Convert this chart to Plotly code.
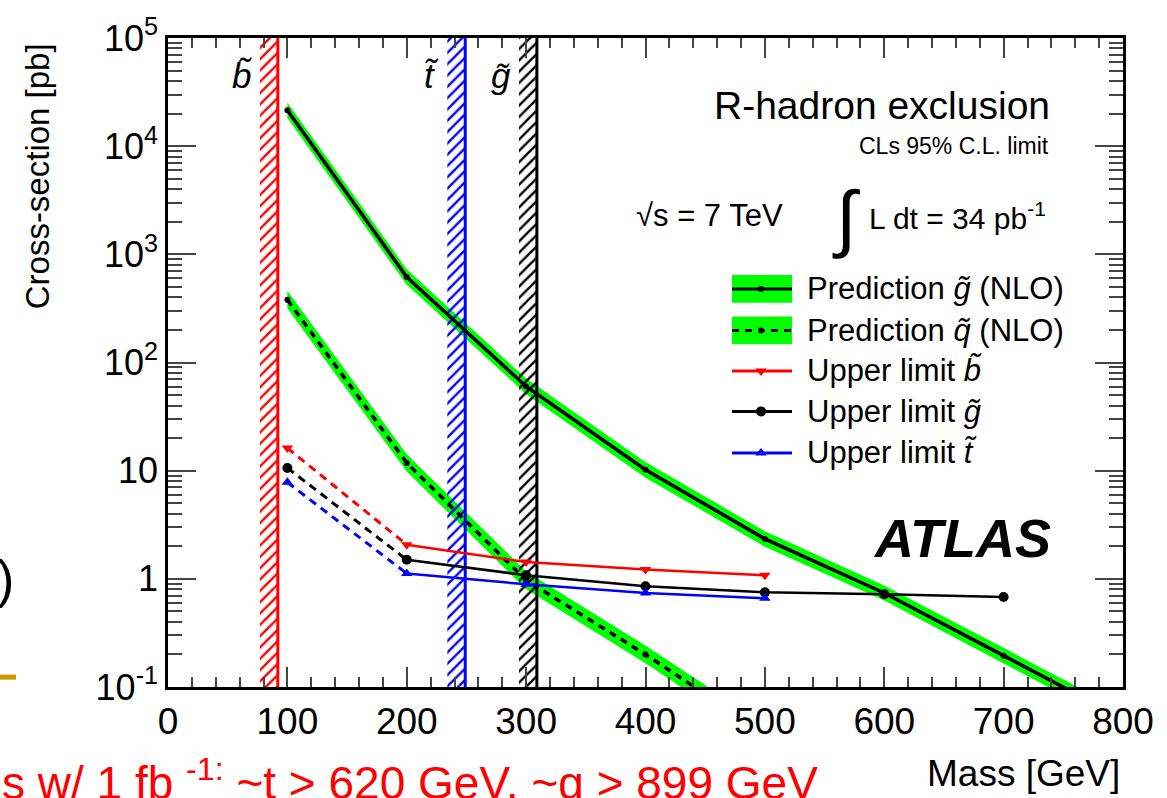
import plotly.graph_objects as go

# ---------------- data ----------------
mass_gl = [100, 200, 300, 400, 500, 600, 700, 800]
gluino_pred = [2.15e4, 617, 60, 10.2, 2.34, 0.74, 0.195, 0.051]
gluino_pred_hi = [2.54e4, 728, 71, 12.0, 2.76, 0.87, 0.230, 0.060]
gluino_pred_lo = [1.82e4, 523, 51, 8.6, 1.98, 0.63, 0.165, 0.043]

mass_sq = [100, 200, 300, 400, 500]
squark_pred = [380, 11.8, 0.97, 0.20, 0.037]
squark_pred_hi = [460, 14.2, 1.17, 0.242, 0.045]
squark_pred_lo = [315, 9.8, 0.80, 0.166, 0.030]

mass_ul = [100, 200, 300, 400, 500]
ul_sbottom = [16.2, 2.07, 1.43, 1.22, 1.08]
ul_stop = [7.8, 1.12, 0.89, 0.74, 0.66]
mass_ul_gl = [100, 200, 300, 400, 500, 600, 700]
ul_gluino = [10.6, 1.5, 1.08, 0.855, 0.75, 0.72, 0.68]

# previous mass limits (hatched bands) [low, high] GeV
prev_sbottom = [77, 92]
prev_stop = [234, 249]
prev_gluino = [294, 309]

YMIN, YMAX = 0.1, 1e5
y_tickvals = [0.1, 1, 10, 100, 1e3, 1e4, 1e5]
y_ticktext = ["10<sup>-1</sup>", "1", "10", "10<sup>2</sup>", "10<sup>3</sup>",
              "10<sup>4</sup>", "10<sup>5</sup>"]
y_minor = [m * 10 ** e for e in range(-1, 5) for m in range(2, 10)]
x_tickvals = [0, 100, 200, 300, 400, 500, 600, 700, 800]

# ---------------- layout geometry ----------------
W, H = 1167, 798
L, R, T, B = 168, 1123, 30, 687


def fx(px):
    return (px - L) / (R - L)


def fy(py):
    return (B - py) / (B - T)


FONT = "Liberation Sans, Arial, Helvetica, sans-serif"
GREEN = "#00FF00"

fig = go.Figure()

# green bands
for lo, hi, xs in [(gluino_pred_lo, gluino_pred_hi, mass_gl),
                   (squark_pred_lo, squark_pred_hi, mass_sq)]:
    fig.add_trace(go.Scatter(x=xs, y=lo, mode="lines", line=dict(width=0, color=GREEN),
                             showlegend=False, hoverinfo="skip"))
    fig.add_trace(go.Scatter(x=xs, y=hi, mode="lines", line=dict(width=0, color=GREEN),
                             fill="tonexty", fillcolor=GREEN, showlegend=False, hoverinfo="skip"))

# hatched previous-limit bands
for (lo, hi), col in [(prev_sbottom, "red"), (prev_stop, "blue"), (prev_gluino, "black")]:
    fig.add_trace(go.Scatter(
        x=[lo, hi, hi, lo, lo], y=[YMIN, YMIN, YMAX, YMAX, YMIN],
        mode="none", fill="toself", fillcolor="rgba(0,0,0,0)",
        fillpattern=dict(shape="/", fgcolor=col, bgcolor="rgba(0,0,0,0)", size=8,
                         solidity=0.3, fgopacity=1),
        showlegend=False, hoverinfo="skip"))
    fig.add_trace(go.Scatter(x=[hi, hi], y=[YMIN, YMAX], mode="lines",
                             line=dict(color=col, width=3), showlegend=False, hoverinfo="skip"))

# predictions
fig.add_trace(go.Scatter(x=mass_gl, y=gluino_pred, mode="lines+markers",
                         line=dict(color="black", width=3.5),
                         marker=dict(color="black", size=6), showlegend=False))
fig.add_trace(go.Scatter(x=mass_sq, y=squark_pred, mode="lines+markers",
                         line=dict(color="black", width=3.5, dash="7px,6px"),
                         marker=dict(color="black", size=6), showlegend=False))

# upper limits: dashed first segment, solid afterwards
for xs, ys, col, sym in [(mass_ul, ul_sbottom, "red", "triangle-down"),
                         (mass_ul_gl, ul_gluino, "black", "circle"),
                         (mass_ul, ul_stop, "blue", "triangle-up")]:
    fig.add_trace(go.Scatter(x=xs[:2], y=ys[:2], mode="lines",
                             line=dict(color=col, width=3, dash="8px,6px"),
                             showlegend=False))
    fig.add_trace(go.Scatter(x=xs[1:], y=ys[1:], mode="lines",
                             line=dict(color=col, width=2.5), showlegend=False))
    fig.add_trace(go.Scatter(x=xs, y=ys, mode="markers",
                             marker=dict(color=col, size=10, symbol=sym), showlegend=False))

# ---------------- hand-made legend (overlay axes 0..1) ----------------
leg_rows = [284, 326, 367, 408, 450]
leg_x0, leg_x1, leg_xc = 732, 792, 761
leg_labels = ["Prediction <i>g̃</i> (NLO)", "Prediction <i>q̃</i> (NLO)",
              "Upper limit <i>b̃</i>", "Upper limit <i>g̃</i>", "Upper limit <i>t̃</i>"]
leg_styles = [("black", "solid", "circle", 6, 3), ("black", "7px,6px", "circle", 6, 3),
              ("red", "solid", "triangle-down", 10, 3), ("black", "solid", "circle", 10, 3),
              ("blue", "solid", "triangle-up", 10, 3)]
shapes = []
for i, (row, (col, dash, sym, ms, lw)) in enumerate(zip(leg_rows, leg_styles)):
    if i < 2:
        shapes.append(dict(type="rect", xref="paper", yref="paper",
                           x0=fx(leg_x0), x1=fx(leg_x1), y0=fy(row + 14), y1=fy(row - 14),
                           fillcolor=GREEN, line=dict(width=0), layer="below"))
    fig.add_trace(go.Scatter(x=[fx(leg_x0), fx(leg_x1)], y=[fy(row), fy(row)], mode="lines",
                             line=dict(color=col, width=lw, dash=dash),
                             xaxis="x2", yaxis="y2", showlegend=False, hoverinfo="skip"))
    fig.add_trace(go.Scatter(x=[fx(leg_xc)], y=[fy(row)], mode="markers",
                             marker=dict(color=col, size=ms, symbol=sym),
                             xaxis="x2", yaxis="y2", showlegend=False, hoverinfo="skip"))

# slide decoration: gold line on the left
shapes.append(dict(type="line", xref="paper", yref="paper", x0=fx(0), x1=fx(16),
                   y0=fy(677), y1=fy(677), line=dict(color="#CC9900", width=5)))

ann = []


def A(text, px, py, size, xanchor="left", yanchor="middle", color="black", **kw):
    ann.append(dict(text=text, x=fx(px), y=fy(py), xref="paper", yref="paper",
                    xanchor=xanchor, yanchor=yanchor, showarrow=False,
                    font=dict(family=FONT, size=size, color=color), **kw))


for lab, row in zip(leg_labels, leg_rows):
    A(lab, 805, row, 31)

A("R-hadron exclusion", 1052, 98, 39, xanchor="right")
A("CLs 95% C.L. limit", 1051, 139, 23, xanchor="right")
A("√s = 7 TeV", 634, 210, 31)
A("∫", 846, 212, 74, xanchor="center")
A("L dt = 34 pb<sup>-1</sup>", 867, 210, 30)
A("<b><i>ATLAS</i></b>", 1053, 536, 54, xanchor="right")
A("<i>b̃</i>", 255, 68, 35, xanchor="right")
A("<i>t̃</i>", 441, 68, 35, xanchor="right")
A("<i>g̃</i>", 513, 68, 35, xanchor="right")
A("Cross-section [pb]", 37, 170, 33, xanchor="center", textangle=-90)
A("Mass [GeV]", 1122, 775, 37, xanchor="right")
A(")", 16, 578, 52, xanchor="right")
A("s w/ 1 fb <sup>-1:</sup> ~t > 620 GeV, ~g > 899 GeV", 0, 750, 46,
  yanchor="top", color="red")

fig.update_layout(
    width=W, height=H, margin=dict(l=L, r=W - R, t=T, b=H - B),
    paper_bgcolor="white", plot_bgcolor="white", showlegend=False,
    shapes=shapes, annotations=ann,
    font=dict(family=FONT, color="black"),
    xaxis=dict(range=[0, 800], tickvals=x_tickvals, ticks="inside", ticklen=20, tickwidth=2,
               minor=dict(dtick=20, ticks="inside", ticklen=10, tickwidth=1.5, showgrid=False),
               showline=True, linewidth=2.5, linecolor="black", mirror="ticks",
               showgrid=False, zeroline=False, tickfont=dict(size=37, family=FONT)),
    yaxis=dict(type="log", range=[-1, 5], tickvals=y_tickvals, ticktext=y_ticktext,
               ticks="inside", ticklen=28, tickwidth=2,
               minor=dict(tickvals=y_minor, ticks="inside", ticklen=14, tickwidth=1.5, showgrid=False),
               showline=True, linewidth=2.5, linecolor="black", mirror="ticks",
               showgrid=False, zeroline=False, tickfont=dict(size=36, family=FONT)),
    xaxis2=dict(overlaying="x", range=[0, 1], visible=False),
    yaxis2=dict(overlaying="y", range=[0, 1], visible=False),
)

fig.write_html("out.html")
